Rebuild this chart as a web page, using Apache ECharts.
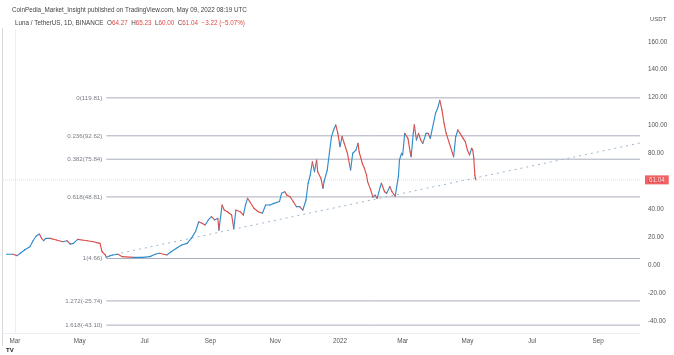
<!DOCTYPE html>
<html><head><meta charset="utf-8">
<script src="https://cdn.jsdelivr.net/npm/echarts@6/dist/echarts.min.js"></script>
<style>html,body{margin:0;padding:0;background:#fff}#c{width:674px;height:355px}</style>
</head><body><div id="c"></div>
<script>
const dates = ['2021-02-21','2021-02-27','2021-03-03','2021-03-06','2021-03-10','2021-03-15','2021-03-18','2021-03-21','2021-03-24','2021-03-26','2021-03-28','2021-03-30','2021-04-03','2021-04-09','2021-04-15','2021-04-19','2021-04-22','2021-04-25','2021-04-29','2021-05-03','2021-05-08','2021-05-14','2021-05-17','2021-05-20','2021-05-22','2021-05-25','2021-05-26','2021-05-29','2021-06-01','2021-06-06','2021-06-10','2021-06-20','2021-06-29','2021-07-06','2021-07-11','2021-07-15','2021-07-22','2021-07-26','2021-07-31','2021-08-05','2021-08-10','2021-08-14','2021-08-18','2021-08-21','2021-08-24','2021-08-27','2021-08-30','2021-09-02','2021-09-05','2021-09-08','2021-09-09','2021-09-12','2021-09-14','2021-09-17','2021-09-21','2021-09-23','2021-09-25','2021-09-29','2021-10-02','2021-10-04','2021-10-06','2021-10-08','2021-10-12','2021-10-16','2021-10-20','2021-10-23','2021-10-27','2021-10-31','2021-11-05','2021-11-07','2021-11-10','2021-11-12','2021-11-15','2021-11-18','2021-11-21','2021-11-24','2021-11-27','2021-11-30','2021-12-02','2021-12-04','2021-12-06','2021-12-08','2021-12-10','2021-12-11','2021-12-14','2021-12-16','2021-12-17','2021-12-20','2021-12-22','2021-12-24','2021-12-26','2021-12-28','2021-12-30','2022-01-01','2022-01-03','2022-01-05','2022-01-08','2022-01-11','2022-01-13','2022-01-16','2022-01-18','2022-01-19','2022-01-22','2022-01-24','2022-01-26','2022-01-27','2022-01-30','2022-02-01','2022-02-03','2022-02-05','2022-02-08','2022-02-09','2022-02-12','2022-02-14','2022-02-17','2022-02-19','2022-02-22','2022-02-25','2022-02-26','2022-02-28','2022-03-01','2022-03-03','2022-03-06','2022-03-08','2022-03-09','2022-03-11','2022-03-12','2022-03-14','2022-03-16','2022-03-18','2022-03-20','2022-03-23','2022-03-25','2022-03-27','2022-03-30','2022-04-01','2022-04-03','2022-04-05','2022-04-07','2022-04-09','2022-04-11','2022-04-14','2022-04-16','2022-04-18','2022-04-20','2022-04-22','2022-04-24','2022-04-27','2022-04-29','2022-05-01','2022-05-03','2022-05-05','2022-05-06','2022-05-07','2022-05-08','2022-05-09'];
const prices = [7.7,7.7,6.7,8.4,10.8,13.1,17.4,20.8,22.2,19.1,17.4,19.1,19.1,17.9,16.7,17.4,15.0,15.5,18.4,17.9,17.4,16.7,16.0,15.5,9.5,7.2,5.5,6.5,7.2,7.7,6.0,5.5,5.5,6.0,7.7,8.4,7.2,9.5,12.0,14.3,15.5,19.1,24.0,31.0,30.0,28.7,32.3,34.7,32.3,33.5,25.0,43.0,39.4,38.2,35.8,26.3,39.4,38.2,35.8,43.0,47.8,45.5,40.7,38.2,37.1,43.0,43.0,44.2,45.5,51.4,52.5,50.1,48.9,45.5,41.8,41.8,39.4,46.6,58.6,64.5,74.0,66.9,75.3,66.9,62.2,55.0,59.8,68.1,80.1,92.0,96.8,100.4,94.4,84.8,92.0,87.2,80.1,68.1,80.1,82.4,87.2,81.2,72.8,69.3,64.5,59.8,53.7,48.6,50.1,47.8,56.2,58.6,52.5,51.4,56.2,52.5,49.4,63.3,75.3,80.1,78.9,94.4,90.8,81.2,77.6,94.4,100.5,89.6,94.4,89.6,87.2,94.4,94.4,90.8,101.6,108.8,112.4,118.0,111.2,101.6,94.4,87.2,82.4,77.6,92.0,96.8,94.4,90.8,88.4,82.4,78.9,83.7,82.4,76.5,64.27,61.04];

const fibNames = ['0(119.81)','0.236(92.62)','0.382(75.84)','0.618(48.81)','1(4.66)','1.272(-25.74)','1.618(-43.10)'];
const fibLevels = [119.81, 92.62, 75.84, 48.81, 4.66, -25.74, -43.10];
const fibStart = '2021-05-26';

const trendDates = ['2021-05-29','2022-10-11'];
const trendValues = [6.8, 87.5];

const lastPrice = 61.04;

const tickDates = ['2021-03-01','2021-05-01','2021-07-01','2021-09-01','2021-11-01','2022-01-01','2022-03-01','2022-05-01','2022-07-01','2022-09-01'];
const tickLabels = ['Mar','May','Jul','Sep','Nov','2022','Mar','May','Jul','Sep'];
const yTicks = [-40,-20,0,20,40,60,80,100,120,140,160];

const base = Date.UTC(2021,2,1);
function dayOf(s){const p=s.split('-').map(Number);return (Date.UTC(p[0],p[1]-1,p[2])-base)/86400000;}

const X_MIN = -11.3, X_MAX = 588.5;
const UP = '#2f8ccc', DOWN = '#dc4c48';
const FONT = 'Liberation Sans, Arial, sans-serif';

const segData = [];
for (let i=1;i<dates.length;i++){
  segData.push([dayOf(dates[i]), prices[i], dayOf(dates[i-1]), prices[i-1]]);
}
const tickDays = tickDates.map(dayOf);

const series = [];
fibLevels.forEach((lv)=>{
  series.push({type:'line', silent:true, symbol:'none', animation:false,
    data:[[dayOf(fibStart), lv],[X_MAX, lv]],
    lineStyle:{color:'#a9aebb', width:1}, z:1});
});
series.push({type:'scatter', silent:true, animation:false, symbolSize:0,
  data: fibLevels.map((lv,i)=>({value:[dayOf(fibStart), lv], name:fibNames[i]})),
  label:{show:true, position:'left', distance:4, formatter:p=>p.name, color:'#555a66', fontSize:6.2, fontFamily:FONT}});
series.push({type:'line', silent:true, symbol:'none', animation:false,
  data:[[X_MIN,lastPrice],[X_MAX,lastPrice]],
  lineStyle:{color:'#f3b7b5', width:1, type:'dotted', opacity:0.6}, z:1});
series.push({type:'line', silent:true, symbol:'none', animation:false,
  data: trendDates.map((d,i)=>[dayOf(d), trendValues[i]]),
  lineStyle:{color:'#9fb6cc', width:1, type:[2,4]}, z:2});
series.push({type:'custom', animation:false, clip:true, z:5,
  encode:{x:[0,2], y:[1,3]},
  data: segData,
  renderItem:function(params, api){
    const a = api.coord([api.value(2), api.value(3)]);
    const b = api.coord([api.value(0), api.value(1)]);
    const up = api.value(1) >= api.value(3);
    return {type:'line', shape:{x1:a[0],y1:a[1],x2:b[0],y2:b[1]},
      style:{stroke: up?UP:DOWN, lineWidth:1.15, lineCap:'round'}};
  }});
series.push({type:'scatter', silent:true, animation:false, symbolSize:0,
  data:[[X_MAX, lastPrice]],
  label:{show:true, position:'right', distance:5, formatter:()=>lastPrice.toFixed(2), color:'#fff', backgroundColor:'#ef3b3f', padding:[2,4,1,4], fontSize:6.3, fontFamily:FONT}});

const chart = echarts.init(document.getElementById('c'), null, {renderer:'canvas'});
chart.setOption({
  backgroundColor:'#ffffff',
  animation:false,
  title:[
    {text:'CoinPedia_Market_Insight published on TradingView.com, May 09, 2022 08:19 UTC', left:7, top:2,
     textStyle:{fontSize:6.3, fontWeight:'normal', color:'#444', fontFamily:FONT}},
    {text:'{n|Luna / TetherUS, 1D, BINANCE  }{k|O}{r|64.27  }{k|H}{r|65.23  }{k|L}{r|60.00  }{k|C}{r|61.04  }{r|\u22123.22 (\u22125.07%)}', left:10, top:15,
     textStyle:{fontSize:6.3, fontWeight:'normal', fontFamily:FONT,
       rich:{n:{color:'#444',fontSize:6.3}, k:{color:'#444',fontSize:6.3}, r:{color:'#e04848',fontSize:6.3}}}}
  ],
  grid:{left:3, right:34, top:30, bottom:22, containLabel:false},
  xAxis:{type:'value', min:X_MIN, max:X_MAX,
    axisLine:{show:true, onZero:false, lineStyle:{color:'#eceef2'}}, axisTick:{show:false}, splitLine:{show:false},
    axisLabel:{customValues:tickDays, formatter:(v)=>{const i=tickDays.indexOf(v);return i>=0?tickLabels[i]:'';},
      color:'#555', fontSize:6.3, margin:5, fontFamily:FONT}},
  yAxis:{type:'value', position:'right', min:-48.74, max:168.46,
    axisLine:{show:true, lineStyle:{color:'#eceef2'}}, axisTick:{show:false}, splitLine:{show:false},
    axisLabel:{customValues:yTicks, formatter:(v)=>v.toFixed(2), color:'#555', fontSize:6.3, margin:8, align:'left', fontFamily:FONT}},
  graphic:[
    {type:'text', left:650, top:16, style:{text:'USDT', fontSize:6, fill:'#555', fontFamily:FONT}},
    {type:'line', shape:{x1:2.5,y1:28,x2:2.5,y2:346}, style:{stroke:'#d6d8dd', lineWidth:1}},
    {type:'text', left:6, top:347, style:{text:'TV', fontSize:6, fontWeight:'bold', fill:'#222', fontFamily:FONT}}
  ],
  series: series
});
</script></body></html>
